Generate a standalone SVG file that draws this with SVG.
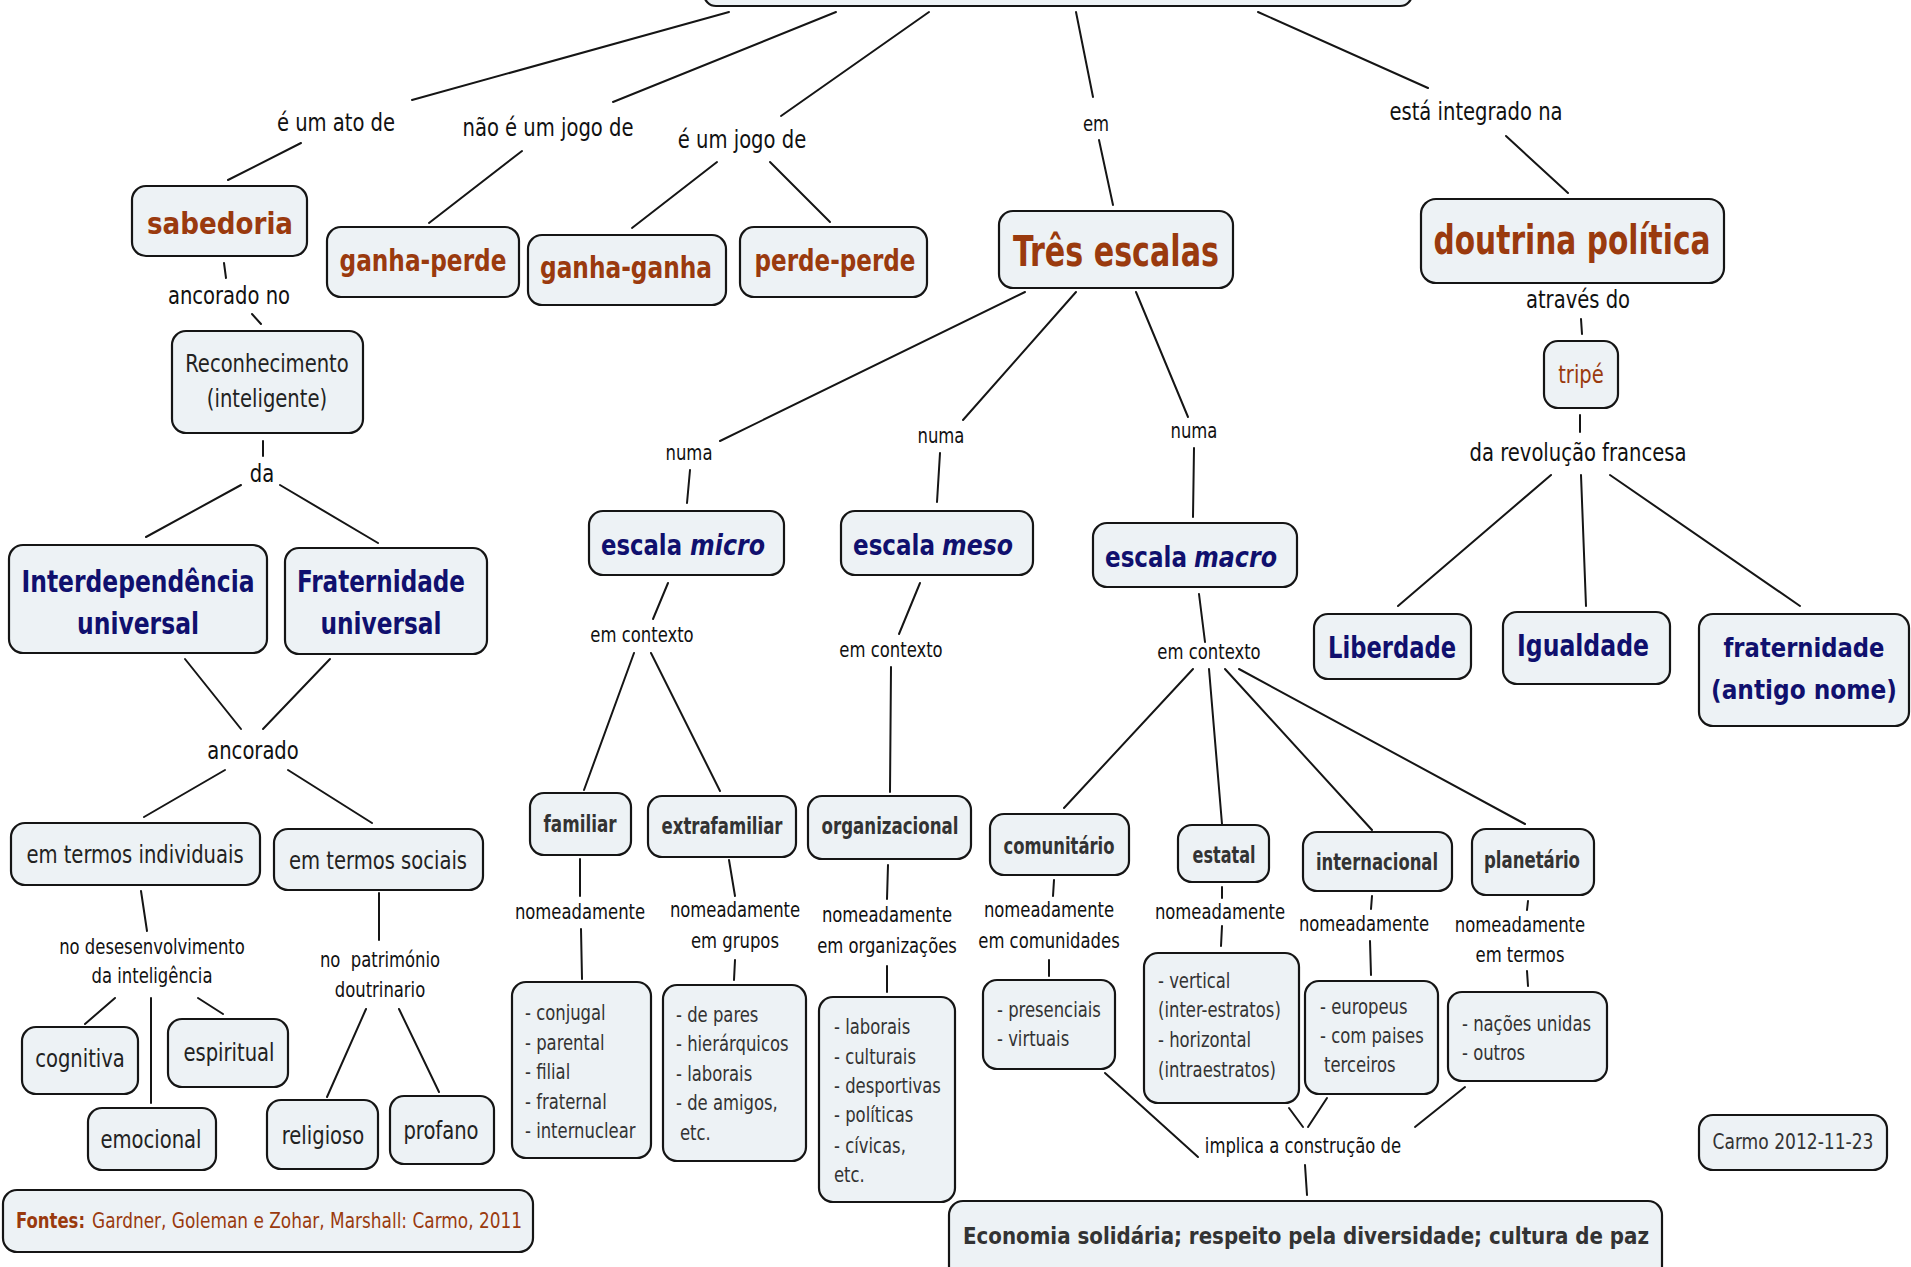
<svg xmlns="http://www.w3.org/2000/svg" width="1911" height="1267" viewBox="0 0 1911 1267">
<style>
.box{fill:#edf2f5;stroke:#151515;stroke-width:2.2}
.conn line{stroke:#151515;stroke-width:2;stroke-linecap:round}
text{font-family:"DejaVu Sans Condensed","DejaVu Sans","Liberation Sans",sans-serif;font-stretch:condensed;dominant-baseline:central;text-anchor:middle}
.lbl,.sl,.reg,.list{transform-box:fill-box;transform-origin:50% 50%;transform:scaleX(.87)}
.lbl{font-size:25px;fill:#111}
.sl{font-size:21px;fill:#111}
.reg{font-size:25px;fill:#222}
.list{font-size:21px;fill:#333;text-anchor:start;transform-origin:0 50%}
.br{font-weight:bold;fill:#9a3a0e}
.nv{font-weight:bold;fill:#10106e}
.st{text-anchor:start}
.gr{font-weight:bold;fill:#333;font-size:23px}
</style>
<rect width="1911" height="1267" fill="#ffffff"/>

<g id="connectors" class="conn">
<line x1="729" y1="12" x2="412" y2="100"/>
<line x1="301" y1="143" x2="228" y2="180"/>
<line x1="836" y1="12" x2="613" y2="102"/>
<line x1="522" y1="151" x2="429" y2="223"/>
<line x1="929" y1="12" x2="781" y2="116"/>
<line x1="717" y1="162" x2="632" y2="228"/>
<line x1="770" y1="162" x2="830" y2="222"/>
<line x1="1076" y1="12" x2="1093" y2="97"/>
<line x1="1099" y1="140" x2="1113" y2="205"/>
<line x1="1258" y1="12" x2="1428" y2="88"/>
<line x1="1506" y1="136" x2="1568" y2="193"/>
<line x1="224" y1="263" x2="226" y2="278"/>
<line x1="252" y1="314" x2="261" y2="324"/>
<line x1="263" y1="441" x2="263" y2="456"/>
<line x1="241" y1="485" x2="146" y2="537"/>
<line x1="280" y1="485" x2="378" y2="543"/>
<line x1="185" y1="659" x2="241" y2="729"/>
<line x1="330" y1="659" x2="263" y2="729"/>
<line x1="225" y1="770" x2="144" y2="817"/>
<line x1="288" y1="770" x2="372" y2="823"/>
<line x1="141" y1="891" x2="147" y2="931"/>
<line x1="115" y1="998" x2="85" y2="1024"/>
<line x1="151" y1="998" x2="151" y2="1103"/>
<line x1="198" y1="998" x2="223" y2="1014"/>
<line x1="379" y1="893" x2="379" y2="940"/>
<line x1="366" y1="1009" x2="327" y2="1097"/>
<line x1="399" y1="1009" x2="439" y2="1092"/>
<line x1="1581" y1="319" x2="1582" y2="334"/>
<line x1="1580" y1="415" x2="1580" y2="432"/>
<line x1="1551" y1="475" x2="1398" y2="606"/>
<line x1="1581" y1="475" x2="1586" y2="606"/>
<line x1="1610" y1="475" x2="1800" y2="606"/>
<line x1="1025" y1="292" x2="720" y2="441"/>
<line x1="690" y1="470" x2="687" y2="503"/>
<line x1="1076" y1="292" x2="963" y2="420"/>
<line x1="940" y1="453" x2="937" y2="502"/>
<line x1="1136" y1="292" x2="1188" y2="417"/>
<line x1="1194" y1="448" x2="1193" y2="517"/>
<line x1="668" y1="583" x2="653" y2="619"/>
<line x1="634" y1="653" x2="584" y2="790"/>
<line x1="651" y1="653" x2="720" y2="791"/>
<line x1="920" y1="583" x2="899" y2="634"/>
<line x1="891" y1="667" x2="890" y2="792"/>
<line x1="1199" y1="594" x2="1205" y2="642"/>
<line x1="1193" y1="669" x2="1064" y2="808"/>
<line x1="1209" y1="669" x2="1222" y2="824"/>
<line x1="1225" y1="669" x2="1372" y2="830"/>
<line x1="1239" y1="669" x2="1525" y2="824"/>
<line x1="580" y1="859" x2="580" y2="896"/>
<line x1="581" y1="929" x2="582" y2="979"/>
<line x1="729" y1="860" x2="735" y2="896"/>
<line x1="735" y1="960" x2="734" y2="980"/>
<line x1="888" y1="865" x2="887" y2="899"/>
<line x1="887" y1="966" x2="887" y2="992"/>
<line x1="1054" y1="880" x2="1053" y2="896"/>
<line x1="1049" y1="960" x2="1049" y2="976"/>
<line x1="1222" y1="887" x2="1222" y2="898"/>
<line x1="1222" y1="926" x2="1221" y2="946"/>
<line x1="1372" y1="896" x2="1371" y2="909"/>
<line x1="1370" y1="941" x2="1371" y2="975"/>
<line x1="1528" y1="901" x2="1527" y2="910"/>
<line x1="1527" y1="971" x2="1528" y2="986"/>
<line x1="1105" y1="1073" x2="1198" y2="1157"/>
<line x1="1289" y1="1108" x2="1303" y2="1127"/>
<line x1="1327" y1="1098" x2="1308" y2="1127"/>
<line x1="1465" y1="1087" x2="1415" y2="1127"/>
<line x1="1305" y1="1165" x2="1307" y2="1195"/>
</g>

<g id="labels">
<text class="lbl" x="336" y="122">é um ato de</text>
<text class="lbl" x="548" y="127">não é um jogo de</text>
<text class="lbl" x="742" y="139">é um jogo de</text>
<text class="sl" x="1096" y="124">em</text>
<text class="lbl" x="1476" y="111">está integrado na</text>
<text class="lbl" x="229" y="295">ancorado no</text>
<text class="lbl" x="262" y="473">da</text>
<text class="lbl" x="253" y="750">ancorado</text>
<text class="sl" x="152" y="947">no desesenvolvimento</text>
<text class="sl" x="152" y="976">da inteligência</text>
<text class="sl" x="380" y="960" xml:space="preserve">no  património</text>
<text class="sl" x="380" y="990">doutrinario</text>
<text class="lbl" x="1578" y="299">através do</text>
<text class="lbl" x="1578" y="452">da revolução francesa</text>
<text class="sl" x="689" y="453">numa</text>
<text class="sl" x="941" y="436">numa</text>
<text class="sl" x="1194" y="431">numa</text>
<text class="sl" x="642" y="635">em contexto</text>
<text class="sl" x="891" y="650">em contexto</text>
<text class="sl" x="1209" y="652">em contexto</text>
<text class="sl" x="580" y="912">nomeadamente</text>
<text class="sl" x="735" y="910">nomeadamente</text>
<text class="sl" x="735" y="941">em grupos</text>
<text class="sl" x="887" y="915">nomeadamente</text>
<text class="sl" x="887" y="946">em organizações</text>
<text class="sl" x="1049" y="910">nomeadamente</text>
<text class="sl" x="1049" y="941">em comunidades</text>
<text class="sl" x="1220" y="912">nomeadamente</text>
<text class="sl" x="1364" y="924">nomeadamente</text>
<text class="sl" x="1520" y="925">nomeadamente</text>
<text class="sl" x="1520" y="955">em termos</text>
<text class="sl" x="1303" y="1146">implica a construção de</text>
</g>

<g id="n-top"><rect class="box" x="704" y="-60" width="708" height="66" rx="12"/></g>
<g id="n-sabedoria"><rect class="box" x="132" y="186" width="175" height="70" rx="14"/><text class="br" x="220" y="223" font-size="31" textLength="146" lengthAdjust="spacingAndGlyphs">sabedoria</text></g>
<g id="n-ganha-perde"><rect class="box" x="327" y="227" width="192" height="70" rx="14"/><text class="br" x="423" y="260" font-size="30" textLength="167" lengthAdjust="spacingAndGlyphs">ganha-perde</text></g>
<g id="n-ganha-ganha"><rect class="box" x="528" y="235" width="198" height="70" rx="14"/><text class="br" x="626" y="267" font-size="30" textLength="172" lengthAdjust="spacingAndGlyphs">ganha-ganha</text></g>
<g id="n-perde-perde"><rect class="box" x="740" y="227" width="187" height="70" rx="14"/><text class="br" x="835" y="260" font-size="30" textLength="161" lengthAdjust="spacingAndGlyphs">perde-perde</text></g>
<g id="n-tres"><rect class="box" x="999" y="211" width="234" height="77" rx="14"/><text class="br" x="1116" y="251" font-size="43" textLength="206" lengthAdjust="spacingAndGlyphs">Três escalas</text></g>
<g id="n-doutrina"><rect class="box" x="1421" y="199" width="303" height="84" rx="15"/><text class="br" x="1572" y="240" font-size="41" textLength="277" lengthAdjust="spacingAndGlyphs">doutrina política</text></g>
<g id="n-tripe"><rect class="box" x="1544" y="341" width="74" height="67" rx="14"/><text class="reg" x="1581" y="374" style="fill:#9a3a0e">tripé</text></g>
<g id="n-reconhecimento"><rect class="box" x="172" y="331" width="191" height="102" rx="14"/><text class="reg" x="267" y="363">Reconhecimento</text><text class="reg" x="267" y="398">(inteligente)</text></g>
<g id="n-interdependencia"><rect class="box" x="9" y="545" width="258" height="108" rx="14"/><text class="nv" x="138" y="581" font-size="31" textLength="233" lengthAdjust="spacingAndGlyphs">Interdependência</text><text class="nv" x="138" y="623" font-size="31" textLength="122" lengthAdjust="spacingAndGlyphs">universal</text></g>
<g id="n-fraternidade-u"><rect class="box" x="285" y="548" width="202" height="106" rx="14"/><text class="nv" x="381" y="581" font-size="31" textLength="168" lengthAdjust="spacingAndGlyphs">Fraternidade</text><text class="nv" x="381" y="623" font-size="31" textLength="121" lengthAdjust="spacingAndGlyphs">universal</text></g>
<g id="n-individuais"><rect class="box" x="11" y="823" width="249" height="62" rx="14"/><text class="reg" x="135" y="854" font-size="24">em termos individuais</text></g>
<g id="n-sociais"><rect class="box" x="274" y="829" width="209" height="61" rx="14"/><text class="reg" x="378" y="860" font-size="24">em termos sociais</text></g>
<g id="n-cognitiva"><rect class="box" x="22" y="1027" width="116" height="67" rx="14"/><text class="reg" x="80" y="1058">cognitiva</text></g>
<g id="n-espiritual"><rect class="box" x="168" y="1019" width="120" height="68" rx="14"/><text class="reg" x="229" y="1052">espiritual</text></g>
<g id="n-emocional"><rect class="box" x="88" y="1108" width="128" height="62" rx="14"/><text class="reg" x="151" y="1139">emocional</text></g>
<g id="n-religioso"><rect class="box" x="267" y="1100" width="111" height="69" rx="14"/><text class="reg" x="323" y="1135">religioso</text></g>
<g id="n-profano"><rect class="box" x="390" y="1096" width="104" height="68" rx="14"/><text class="reg" x="441" y="1130">profano</text></g>
<g id="n-fontes"><rect class="box" x="3" y="1190" width="530" height="62" rx="14"/>
<text class="st" x="16" y="1220" font-size="22" font-weight="bold" fill="#9a3a0e" textLength="69" lengthAdjust="spacingAndGlyphs">Fontes:</text>
<text class="st" x="92" y="1220" font-size="22" fill="#9a3a0e" textLength="430" lengthAdjust="spacingAndGlyphs">Gardner, Goleman e Zohar, Marshall: Carmo, 2011</text></g>

<g id="n-micro"><rect class="box" x="589" y="511" width="195" height="64" rx="14"/>
<text class="nv st" x="601" y="545" font-size="28" textLength="81" lengthAdjust="spacingAndGlyphs">escala</text>
<text class="nv st" x="690" y="545" font-size="28" font-style="italic" textLength="75" lengthAdjust="spacingAndGlyphs">micro</text></g>
<g id="n-meso"><rect class="box" x="841" y="511" width="192" height="64" rx="14"/>
<text class="nv st" x="853" y="545" font-size="28" textLength="82" lengthAdjust="spacingAndGlyphs">escala</text>
<text class="nv st" x="942" y="545" font-size="28" font-style="italic" textLength="71" lengthAdjust="spacingAndGlyphs">meso</text></g>
<g id="n-macro"><rect class="box" x="1093" y="523" width="204" height="64" rx="14"/>
<text class="nv st" x="1105" y="557" font-size="28" textLength="82" lengthAdjust="spacingAndGlyphs">escala</text>
<text class="nv st" x="1194" y="557" font-size="28" font-style="italic" textLength="83" lengthAdjust="spacingAndGlyphs">macro</text></g>

<g id="n-familiar"><rect class="box" x="530" y="793" width="101" height="62" rx="14"/><text class="gr" x="580" y="824" textLength="73" lengthAdjust="spacingAndGlyphs">familiar</text></g>
<g id="n-extrafamiliar"><rect class="box" x="648" y="796" width="148" height="61" rx="14"/><text class="gr" x="722" y="826" textLength="121" lengthAdjust="spacingAndGlyphs">extrafamiliar</text></g>
<g id="n-organizacional"><rect class="box" x="808" y="796" width="163" height="63" rx="14"/><text class="gr" x="890" y="826" textLength="137" lengthAdjust="spacingAndGlyphs">organizacional</text></g>
<g id="n-comunitario"><rect class="box" x="990" y="814" width="139" height="61" rx="14"/><text class="gr" x="1059" y="846" textLength="111" lengthAdjust="spacingAndGlyphs">comunitário</text></g>
<g id="n-estatal"><rect class="box" x="1178" y="825" width="91" height="57" rx="14"/><text class="gr" x="1224" y="855" textLength="63" lengthAdjust="spacingAndGlyphs">estatal</text></g>
<g id="n-internacional"><rect class="box" x="1303" y="832" width="149" height="59" rx="14"/><text class="gr" x="1377" y="862" textLength="122" lengthAdjust="spacingAndGlyphs">internacional</text></g>
<g id="n-planetario"><rect class="box" x="1472" y="829" width="122" height="66" rx="14"/><text class="gr" x="1532" y="860" textLength="96" lengthAdjust="spacingAndGlyphs">planetário</text></g>

<g id="n-familiar-list"><rect class="box" x="512" y="982" width="139" height="176" rx="14"/>
<text class="list" x="525" y="1013">- conjugal</text><text class="list" x="525" y="1043">- parental</text><text class="list" x="525" y="1072">- filial</text><text class="list" x="525" y="1102">- fraternal</text><text class="list" x="525" y="1131">- internuclear</text></g>
<g id="n-grupos-list"><rect class="box" x="663" y="985" width="143" height="176" rx="14"/>
<text class="list" x="676" y="1015">- de pares</text><text class="list" x="676" y="1044">- hierárquicos</text><text class="list" x="676" y="1074">- laborais</text><text class="list" x="676" y="1103">- de amigos,</text><text class="list" x="680" y="1133">etc.</text></g>
<g id="n-org-list"><rect class="box" x="819" y="997" width="136" height="205" rx="14"/>
<text class="list" x="834" y="1027">- laborais</text><text class="list" x="834" y="1057">- culturais</text><text class="list" x="834" y="1086">- desportivas</text><text class="list" x="834" y="1115">- políticas</text><text class="list" x="834" y="1146">- cívicas,</text><text class="list" x="834" y="1175">etc.</text></g>
<g id="n-com-list"><rect class="box" x="983" y="980" width="132" height="89" rx="14"/>
<text class="list" x="997" y="1010">- presenciais</text><text class="list" x="997" y="1039">- virtuais</text></g>
<g id="n-estatal-list"><rect class="box" x="1144" y="953" width="155" height="150" rx="14"/>
<text class="list" x="1158" y="981">- vertical</text><text class="list" x="1158" y="1010">(inter-estratos)</text><text class="list" x="1158" y="1040">- horizontal</text><text class="list" x="1158" y="1070">(intraestratos)</text></g>
<g id="n-int-list"><rect class="box" x="1305" y="981" width="133" height="113" rx="14"/>
<text class="list" x="1320" y="1007">- europeus</text><text class="list" x="1320" y="1036">- com paises</text><text class="list" x="1324" y="1065">terceiros</text></g>
<g id="n-plan-list"><rect class="box" x="1448" y="992" width="159" height="89" rx="14"/>
<text class="list" x="1462" y="1024">- nações unidas</text><text class="list" x="1462" y="1053">- outros</text></g>

<g id="n-liberdade"><rect class="box" x="1314" y="614" width="157" height="65" rx="14"/><text class="nv" x="1392" y="647" font-size="31" textLength="128" lengthAdjust="spacingAndGlyphs">Liberdade</text></g>
<g id="n-igualdade"><rect class="box" x="1503" y="612" width="167" height="72" rx="14"/><text class="nv" x="1583" y="645" font-size="31" textLength="132" lengthAdjust="spacingAndGlyphs">Igualdade</text></g>
<g id="n-fraternidade"><rect class="box" x="1699" y="614" width="210" height="112" rx="14"/><text class="nv" x="1804" y="647" font-size="27" textLength="161" lengthAdjust="spacingAndGlyphs">fraternidade</text><text class="nv" x="1804" y="689" font-size="27" textLength="186" lengthAdjust="spacingAndGlyphs">(antigo nome)</text></g>

<g id="n-economia"><rect class="box" x="949" y="1201" width="713" height="95" rx="14"/><text class="gr" x="1306" y="1236" font-size="26" textLength="686" lengthAdjust="spacingAndGlyphs">Economia solidária; respeito pela diversidade; cultura de paz</text></g>
<g id="n-carmo"><rect class="box" x="1699" y="1115" width="188" height="55" rx="14"/><text x="1793" y="1142" font-size="21" fill="#333" textLength="161" lengthAdjust="spacingAndGlyphs">Carmo 2012-11-23</text></g>
</svg>
